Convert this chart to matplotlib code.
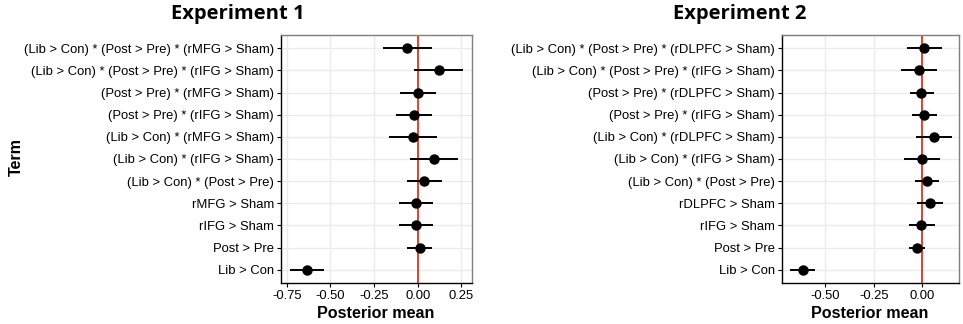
import numpy as np
import matplotlib
matplotlib.use("Agg")
import matplotlib.pyplot as plt

plt.rcParams['font.family'] = ['Liberation Sans', 'DejaVu Sans']

# Experiment 1 terms, top to bottom
terms_1 = [
    "(Lib > Con) * (Post > Pre) * (rMFG > Sham)",
    "(Lib > Con) * (Post > Pre) * (rIFG > Sham)",
    "(Post > Pre) * (rMFG > Sham)",
    "(Post > Pre) * (rIFG > Sham)",
    "(Lib > Con) * (rMFG > Sham)",
    "(Lib > Con) * (rIFG > Sham)",
    "(Lib > Con) * (Post > Pre)",
    "rMFG > Sham",
    "rIFG > Sham",
    "Post > Pre",
    "Lib > Con",
]
mean_1 = [-0.060, 0.122, 0.004, -0.023, -0.029, 0.093, 0.038, -0.012, -0.008, 0.011, -0.634]
low_1 = [-0.200, -0.019, -0.101, -0.122, -0.164, -0.042, -0.060, -0.105, -0.105, -0.060, -0.733]
high_1 = [0.084, 0.261, 0.103, 0.082, 0.110, 0.229, 0.137, 0.086, 0.090, 0.082, -0.535]

# Experiment 2 terms, top to bottom
terms_2 = [
    "(Lib > Con) * (Post > Pre) * (rDLPFC > Sham)",
    "(Lib > Con) * (Post > Pre) * (rIFG > Sham)",
    "(Post > Pre) * (rDLPFC > Sham)",
    "(Post > Pre) * (rIFG > Sham)",
    "(Lib > Con) * (rDLPFC > Sham)",
    "(Lib > Con) * (rIFG > Sham)",
    "(Lib > Con) * (Post > Pre)",
    "rDLPFC > Sham",
    "rIFG > Sham",
    "Post > Pre",
    "Lib > Con",
]
mean_2 = [0.009, -0.019, -0.005, 0.009, 0.058, -0.002, 0.022, 0.038, -0.005, -0.027, -0.613]
low_2 = [-0.079, -0.111, -0.063, -0.053, -0.034, -0.092, -0.038, -0.027, -0.070, -0.070, -0.676]
high_2 = [0.098, 0.072, 0.058, 0.072, 0.152, 0.089, 0.086, 0.103, 0.062, 0.015, -0.548]

ticks_1 = [-0.75, -0.50, -0.25, 0.00, 0.25]
ticks_2 = [-0.50, -0.25, 0.00]

W, H = 963, 324
fig = plt.figure(figsize=(W / 100, H / 100), dpi=100)


def px_axes(x0, y0, x1, y1):
    return fig.add_axes([x0 / W, (H - y1) / H, (x1 - x0) / W, (y1 - y0) / H])


def draw_panel(ax, terms, mean, low, high, ticks, xlim):
    n = len(terms)
    y = np.arange(n, 0, -1)
    ax.set_xlim(*xlim)
    ax.set_ylim(0.4, n + 0.6)
    for t in ticks:
        ax.axvline(t, color='#ebebeb', lw=1.0, zorder=0)
    for yy in y:
        ax.axhline(yy, color='#ebebeb', lw=1.0, zorder=0)
    ax.axvline(0, color='#e0432b', lw=1.4, zorder=1)
    ax.hlines(y, low, high, color='black', lw=1.4, zorder=2)
    ax.plot(mean, y, 'o', color='black', ms=6.5, zorder=3)
    ax.set_yticks(y)
    ax.set_yticklabels(terms)
    ax.set_xticks(ticks)
    ax.set_xticklabels([f"{t:.2f}" for t in ticks])
    ax.tick_params(axis='both', labelsize=9.4, colors='black', length=3,
                   width=0.8, pad=2)
    for side in ['top', 'right']:
        ax.spines[side].set_color('#7f7f7f')
        ax.spines[side].set_linewidth(1.0)
    for side in ['left', 'bottom']:
        ax.spines[side].set_color('black')
        ax.spines[side].set_linewidth(1.0)


ax1 = px_axes(281, 35, 472, 283)
draw_panel(ax1, terms_1, mean_1, low_1, high_1, ticks_1, (-0.783, 0.311))
fig.text(376 / W, 1 - 314 / H, "Posterior mean", ha='center', va='center',
         fontsize=11.6, fontweight='bold')
fig.text(16 / W, 1 - 157 / H, "Term", ha='center', va='center', rotation=90,
         fontsize=11.6, fontweight='bold')

ax2 = px_axes(782, 35, 959, 283)
draw_panel(ax2, terms_2, mean_2, low_2, high_2, ticks_2, (-0.719, 0.187))
fig.text(870 / W, 1 - 314 / H, "Posterior mean", ha='center', va='center',
         fontsize=11.6, fontweight='bold')

fig.text(238 / W, 1 - 19.5 / H, "Experiment 1", ha='center', va='baseline',
         fontsize=14.5, fontweight='bold', family=['Open Sans', 'DejaVu Sans'])
fig.text(740 / W, 1 - 19.5 / H, "Experiment 2", ha='center', va='baseline',
         fontsize=14.5, fontweight='bold', family=['Open Sans', 'DejaVu Sans'])

fig.savefig("out.png", dpi=100)
